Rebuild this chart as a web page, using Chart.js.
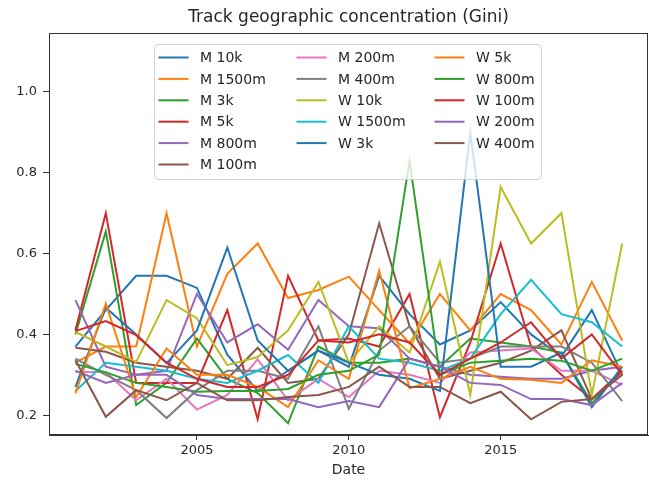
<!DOCTYPE html>
<html>
<head>
<meta charset="utf-8">
<script src="https://cdn.jsdelivr.net/npm/chart.js@4"></script>
<style>
  html, body { margin: 0; padding: 0; background: #fff; }
  #wrap { width: 649px; height: 483px; position: relative; }
</style>
</head>
<body>
<div id="wrap"><canvas id="gini"></canvas></div>
<script>
// Gini de concentracion geografica por prueba, 2001-2019
const years = [2001, 2002, 2003, 2004, 2005, 2006, 2007, 2008, 2009, 2010,
               2011, 2012, 2013, 2014, 2015, 2016, 2017, 2018, 2019];

const m10k   = [0.37, 0.46, 0.545, 0.545, 0.515, 0.35, 0.26, 0.31, 0.36, 0.32, 0.545, 0.45, 0.375, 0.41, 0.48, 0.40, 0.345, 0.46, 0.30];
const m1500  = [0.33, 0.37, 0.37, 0.70, 0.37, 0.55, 0.625, 0.49, 0.51, 0.543, 0.46, 0.378, 0.50, 0.41, 0.50, 0.46, 0.375, 0.53, 0.385];
const m3k    = [0.40, 0.655, 0.225, 0.28, 0.39, 0.29, 0.255, 0.18, 0.37, 0.33, 0.33, 0.34, 0.32, 0.39, 0.38, 0.37, 0.355, 0.23, 0.31];
const m5k    = [0.41, 0.70, 0.28, 0.28, 0.28, 0.46, 0.19, 0.545, 0.385, 0.39, 0.37, 0.50, 0.195, 0.38, 0.625, 0.37, 0.30, 0.24, 0.31];
const m800   = [0.485, 0.32, 0.30, 0.31, 0.50, 0.38, 0.425, 0.362, 0.485, 0.42, 0.415, 0.34, 0.32, 0.30, 0.295, 0.29, 0.29, 0.31, 0.32];
const m100   = [0.367, 0.357, 0.33, 0.32, 0.31, 0.29, 0.367, 0.28, 0.29, 0.40, 0.675, 0.42, 0.29, 0.31, 0.33, 0.36, 0.41, 0.24, 0.30];
const m200   = [0.307, 0.307, 0.237, 0.29, 0.214, 0.25, 0.338, 0.237, 0.29, 0.245, 0.31, 0.30, 0.28, 0.355, 0.36, 0.365, 0.31, 0.31, 0.275];
const m400   = [0.34, 0.30, 0.262, 0.193, 0.262, 0.31, 0.31, 0.29, 0.42, 0.216, 0.36, 0.42, 0.33, 0.34, 0.37, 0.37, 0.37, 0.33, 0.235];
const w10k   = [0.406, 0.37, 0.332, 0.485, 0.44, 0.324, 0.344, 0.41, 0.53, 0.33, 0.42, 0.355, 0.58, 0.25, 0.765, 0.625, 0.70, 0.25, 0.625];
const w1500  = [0.26, 0.33, 0.32, 0.31, 0.29, 0.28, 0.31, 0.349, 0.28, 0.42, 0.34, 0.33, 0.31, 0.34, 0.45, 0.535, 0.45, 0.43, 0.37];
const w3k    = [0.27, 0.466, 0.40, 0.329, 0.41, 0.615, 0.385, 0.31, 0.36, 0.33, 0.30, 0.29, 0.26, 0.90, 0.32, 0.32, 0.355, 0.22, 0.32];
const w5k    = [0.254, 0.476, 0.245, 0.365, 0.30, 0.30, 0.27, 0.22, 0.336, 0.29, 0.558, 0.267, 0.29, 0.32, 0.29, 0.288, 0.28, 0.336, 0.32];
const w800   = [0.327, 0.306, 0.28, 0.27, 0.258, 0.26, 0.26, 0.265, 0.30, 0.31, 0.35, 0.83, 0.30, 0.33, 0.335, 0.34, 0.335, 0.31, 0.34];
const w100   = [0.408, 0.433, 0.398, 0.33, 0.29, 0.27, 0.27, 0.30, 0.385, 0.38, 0.40, 0.38, 0.30, 0.34, 0.38, 0.43, 0.34, 0.40, 0.30];
const w200   = [0.31, 0.28, 0.30, 0.30, 0.25, 0.24, 0.24, 0.24, 0.22, 0.235, 0.22, 0.34, 0.32, 0.28, 0.275, 0.24, 0.24, 0.225, 0.28];
const w400   = [0.336, 0.196, 0.262, 0.237, 0.28, 0.237, 0.237, 0.245, 0.25, 0.27, 0.32, 0.27, 0.27, 0.23, 0.258, 0.19, 0.233, 0.24, 0.30];

const seriesLabels = ["M 10k", "M 1500m", "M 3k", "M 5k", "M 800m", "M 100m", "M 200m", "M 400m",
                      "W 10k", "W 1500m", "W 3k", "W 5k", "W 800m", "W 100m", "W 200m", "W 400m"];
const seriesValues = [m10k, m1500, m3k, m5k, m800, m100, m200, m400,
                      w10k, w1500, w3k, w5k, w800, w100, w200, w400];

const xTicks = [2005, 2010, 2015];
const yTicks = [0.2, 0.4, 0.6, 0.8, 1.0];

const chartTitle = "Track geographic concentration (Gini)";
const xTitle = "Date";

// ciclo tab10 de matplotlib
const tab10 = ["#1f77b4", "#ff7f0e", "#2ca02c", "#d62728", "#9467bd",
               "#8c564b", "#e377c2", "#7f7f7f", "#bcbd22", "#17becf"];

const FONT = "'DejaVu Sans', 'Liberation Sans', sans-serif";
const INK = "#262626";

(function () {
  "use strict";

  // Marco completo alrededor del area (spines de matplotlib)
  const frame = {
    id: "frame",
    afterDatasetsDraw(chart) {
      const a = chart.chartArea;
      const ctx = chart.ctx;
      ctx.save();
      ctx.strokeStyle = "#333";
      ctx.lineWidth = 1;
      ctx.strokeRect(Math.round(a.left) + 0.5, Math.round(a.top) + 0.5,
                     Math.round(a.right - a.left) - 1, Math.round(a.bottom - a.top) - 1);
      ctx.restore();
    },
  };

  // Leyenda en 3 columnas con reparto tipo matplotlib (6/5/5), dentro del area
  const innerLegend = {
    id: "innerLegend",
    afterDatasetsDraw(chart) {
      const ctx = chart.ctx;
      const sets = chart.data.datasets;
      const box = { x: 154.5, y: 44.5, w: 387, h: 135, r: 4 };
      const ncol = 3;
      const rowH = 21.4;
      const row0 = 57.5;
      const cols = [158.5, 296.5, 434.5];
      const handle = 30;
      const textGap = 11.5;

      // columnas: las primeras (n % ncol) llevan un elemento extra
      const n = sets.length;
      const base = Math.floor(n / ncol);
      const extra = n % ncol;
      const slots = [];
      for (let c = 0; c < ncol; c++) {
        const count = base + (c < extra ? 1 : 0);
        for (let r = 0; r < count; r++) slots.push([c, r]);
      }

      ctx.save();
      ctx.beginPath();
      ctx.roundRect(box.x, box.y, box.w, box.h, box.r);
      ctx.fillStyle = "rgba(255,255,255,0.8)";
      ctx.fill();
      ctx.strokeStyle = "rgba(204,204,204,0.8)";
      ctx.lineWidth = 1;
      ctx.stroke();

      ctx.font = "14px " + FONT;
      ctx.textBaseline = "middle";
      ctx.textAlign = "left";
      sets.forEach((ds, i) => {
        const [c, r] = slots[i];
        const x = cols[c];
        const y = row0 + r * rowH;
        ctx.beginPath();
        ctx.moveTo(x, y);
        ctx.lineTo(x + handle, y);
        ctx.strokeStyle = ds.borderColor;
        ctx.lineWidth = 2;
        ctx.stroke();
        ctx.fillStyle = INK;
        ctx.fillText(ds.label, x + handle + textGap, y + 1);
      });
      ctx.restore();
    },
  };

  function buildDatasets() {
    return seriesLabels.map((label, i) => ({
      label,
      data: years.map((yr, k) => ({ x: yr, y: seriesValues[i][k] })),
      borderColor: tab10[i % tab10.length],
      backgroundColor: tab10[i % tab10.length],
      borderWidth: 2,
      pointRadius: 0,
      tension: 0,
      fill: false,
      order: -i, // la ultima serie queda encima, como en matplotlib
    }));
  }

  function init() {
    const canvas = document.getElementById("gini");
    new Chart(canvas, {
      type: "line",
      data: { datasets: buildDatasets() },
      options: {
        responsive: true,
        maintainAspectRatio: false,
        animation: false,
        devicePixelRatio: 1,
        layout: { padding: { left: 0, right: 1, top: 0, bottom: 0 } },
        plugins: {
          legend: { display: false },
          tooltip: { enabled: false },
          title: {
            display: true,
            fullSize: false,
            text: chartTitle,
            color: INK,
            font: { family: FONT, size: 17, weight: "normal" },
            padding: { top: 7, bottom: 6 },
          },
        },
        scales: {
          x: {
            type: "linear",
            min: 2000.13,
            max: 2019.85,
            afterBuildTicks: (s) => { s.ticks = xTicks.map((v) => ({ value: v })); },
            afterFit: (s) => { s.height = 48; },
            ticks: {
              color: INK,
              font: { family: FONT, size: 13 },
              padding: 3,
              maxRotation: 0,
              callback: (v) => String(v),
            },
            grid: { display: true, drawOnChartArea: false, drawTicks: true, tickLength: 5, color: "#333" },
            border: { display: true, color: "#333" },
            title: {
              display: true,
              text: xTitle,
              color: INK,
              font: { family: FONT, size: 14 },
              padding: { top: 2, bottom: 4 },
            },
          },
          y: {
            type: "linear",
            min: 0.151,
            max: 1.145,
            afterBuildTicks: (s) => { s.ticks = yTicks.map((v) => ({ value: v })); },
            afterFit: (s) => { s.width = 49; },
            ticks: {
              color: INK,
              font: { family: FONT, size: 13 },
              padding: 6,
              callback: (v) => v.toFixed(1),
            },
            grid: { display: true, drawOnChartArea: false, drawTicks: true, tickLength: 6, color: "#333" },
            border: { display: true, color: "#333" },
          },
        },
      },
      plugins: [frame, innerLegend],
    });
  }

  if (document.readyState === "loading") {
    document.addEventListener("DOMContentLoaded", init);
  } else {
    init();
  }
})();
</script>
</body>
</html>
